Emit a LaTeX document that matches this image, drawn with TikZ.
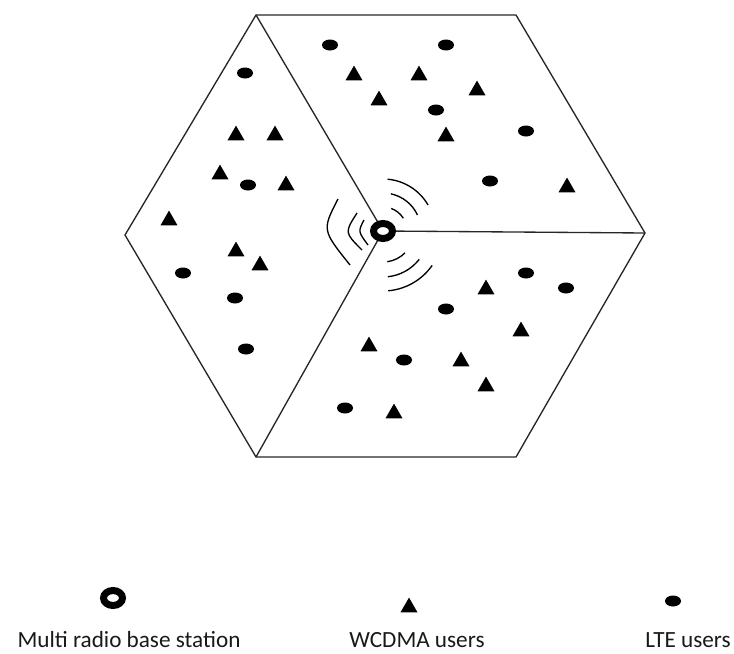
\documentclass[tikz,border=0pt]{standalone}
\usepackage{fontspec}
\setmainfont{Carlito}
\usetikzlibrary{shapes.geometric}
\tikzset{
  edge/.style={draw=black!85, line width=1pt},
  wave/.style={draw=black, line width=1pt},
  lte/.style={ellipse, fill=black, draw=none, inner sep=0pt, minimum width=12pt, minimum height=8.25pt},
  wcdma/.style={regular polygon, regular polygon sides=3, fill=black, draw=none, inner sep=0pt, minimum size=14.7pt, yshift=-1.8pt},
  bs/.style={ellipse, draw=black, fill=white, line width=5.25pt, inner sep=0pt, minimum width=14.25pt, minimum height=11.25pt},
  lbl/.style={anchor=base, font=\fontsize{17.4}{20}\selectfont, text=black!90, inner sep=0pt}
}
\begin{document}
\begin{tikzpicture}[x=0.75pt,y=-0.75pt]
\useasboundingbox (0,0) rectangle (734,653);
% hexagon corners
\coordinate (A) at (256,15);
\coordinate (B) at (516,15);
\coordinate (C) at (645,233);
\coordinate (D) at (516,457);
\coordinate (E) at (256,457);
\coordinate (F) at (125,235);
\coordinate (O) at (383,231);
\draw[edge, line join=miter] (A) -- (B) -- (C) -- (D) -- (E) -- (F) -- cycle;
\draw[edge] (O) -- (A);
\draw[edge] (O) -- (C);
\draw[edge] (O) -- (E);
% radio waves (left)
\draw[wave] (338,199) .. controls (322,230) .. (350,265);
\draw[wave] (357,213) .. controls (344.5,232.5) .. (362,250);
\draw[wave] (364,220) .. controls (358,231.5) .. (368,245);
% radio waves (upper right), arcs about the station
\draw[wave] ([shift={(85:39pt)}]O) arc[start angle=85, end angle=30, radius=39pt];
\draw[wave] ([shift={(78:28.5pt)}]O) arc[start angle=78, end angle=25, radius=28.5pt];
\draw[wave] ([shift={(70:18pt)}]O) arc[start angle=70, end angle=32, radius=18pt];
% radio waves (lower right)
\draw[wave] ([shift={(-85:45pt)}]O) arc[start angle=-85, end angle=-35, radius=45pt];
\draw[wave] ([shift={(-84:34.5pt)}]O) arc[start angle=-84, end angle=-38, radius=34.5pt];
\draw[wave] ([shift={(-82:23.25pt)}]O) arc[start angle=-82, end angle=-45, radius=23.25pt];
% base station
\node[bs] (station) at (O) {};
% WCDMA users
\foreach \x/\y [count=\i] in {236/133, 275/133, 220/172, 286/183, 169/218, 236/249, 260/263,
  354/73, 419/73, 379/98, 477/88, 446/134, 567/185,
  486/287, 521/329, 369/344, 461/359, 486/384, 394/411}
  \node[wcdma] (w\i) at (\x,\y) {};
% LTE users
\foreach \x/\y [count=\i] in {245/73, 248/185, 183/273, 235/298, 246/349,
  330/45, 446/45, 436/110, 526/131, 490/181,
  526/273, 566/288, 446/309, 404/360, 345/408}
  \node[lte] (l\i) at (\x,\y) {};
% legend
\node[bs] (legbs) at (113,598) {};
\node[wcdma] (legw) at (409,605) {};
\node[lte] (legl) at (673,601) {};
\node[lbl] (tbs) at (129,647) {Multi radio base station};
\node[lbl] (tw) at (417,647) {WCDMA users};
\node[lbl] (tl) at (688,647) {LTE users};
\end{tikzpicture}
\end{document}
